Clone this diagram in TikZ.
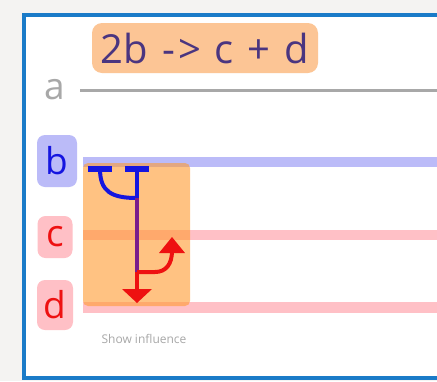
\documentclass[tikz,border=0pt]{standalone}
\usepackage{fontspec}
\setmainfont{Open Sans}
\definecolor{bgc}{HTML}{F4F3F2}
\definecolor{framec}{HTML}{1A7BC8}
\definecolor{titlefill}{HTML}{FCC595}
\definecolor{titletext}{HTML}{4A3580}
\definecolor{agray}{HTML}{A8A8A8}
\definecolor{bfill}{HTML}{BBBBF8}
\definecolor{btext}{HTML}{1515E0}
\definecolor{pfill}{HTML}{FFC0C6}
\definecolor{rtext}{HTML}{EE1111}
\definecolor{orng}{HTML}{FF9A30}
\definecolor{purp}{HTML}{7A1D8C}
\tikzset{
  lbl/.style={rounded corners=8pt, inner sep=0pt, font=\fontsize{37}{37}\selectfont},
  bbox/.style={lbl, fill=bfill, text=btext},
  pbox/.style={lbl, fill=pfill, text=rtext},
  track/.style={line width=10pt},
  inh/.style={btext, line width=4pt},
}
\begin{document}
\begin{tikzpicture}[x=1pt,y=-1pt]
\useasboundingbox (0,0) rectangle (437,381);
\fill[bgc] (0,0) rectangle (437,381);
\fill[white] (24,15) rectangle (445,378);
\draw[framec, line width=4pt] (24,15) rectangle (445,378);
% title
\node[fill=titlefill, rounded corners=10pt, minimum width=226pt, minimum height=50pt, inner sep=0pt,
  text=titletext, font=\fontsize{40}{40}\selectfont] (title) at (205,48) {\spaceskip=14pt 2b -\kern3pt> c + d};
% a
\node[text=agray, font=\fontsize{37}{37}\selectfont, inner sep=0pt] (a) at (55,90) {a};
\coordinate (a0) at (80,90);
\coordinate (a1) at (437,90);
\draw[agray, line width=3pt] (a0) -- (a1);
% tracks
\coordinate (b0) at (83,162); \coordinate (b1) at (437,162);
\coordinate (c0) at (83,235); \coordinate (c1) at (437,235);
\coordinate (d0) at (83,307); \coordinate (d1) at (437,307);
\draw[track, bfill] (b0) -- (b1);
\draw[track, pfill] (c0) -- (c1);
\draw[track, pfill, line width=11pt] (d0) -- (d1);
% labels
\node[bbox, minimum width=40pt, minimum height=52pt] (b) at (57,161) {b};
\node[pbox, minimum width=35pt, minimum height=42pt] (c) at (55,237) {c};
\node[pbox, minimum width=36pt, minimum height=50pt] (d) at (55,305) {d};
% influence box
\node[fill=orng, fill opacity=0.6, rounded corners=5pt, minimum width=107pt, minimum height=143pt, inner sep=0pt] (infl) at (136.5,234.5) {};
% blue T bars
\coordinate (tl) at (100,169);
\coordinate (tr) at (137,169);
\coordinate (j) at (137,198);
\coordinate (k) at (137,272);
\coordinate (dtip) at (137,303);
\coordinate (ctip) at (172,237);
\fill[btext] (88,166) rectangle (112,172);
\fill[btext] (125,166) rectangle (149,172);
\draw[inh] (tr) -- (j);
\draw[inh] (tl) .. controls (100,192) and (112,198) .. (j);
\draw[purp, line width=4pt] (j) -- (k);
\draw[rtext, line width=4pt] (k) -- (137,290);
\fill[rtext] (122,289) -- (152,289) -- (dtip) -- cycle;
\draw[rtext, line width=4pt] (k) -- (155,272) .. controls (166,272) and (172,264) .. (172,251);
\fill[rtext] (159,253) -- (185,253) -- (ctip) -- cycle;
% caption
\node[text=agray, font=\fontsize{12}{12}\selectfont, inner sep=0pt] (cap) at (144,339) {Show influence};
\end{tikzpicture}
\end{document}
